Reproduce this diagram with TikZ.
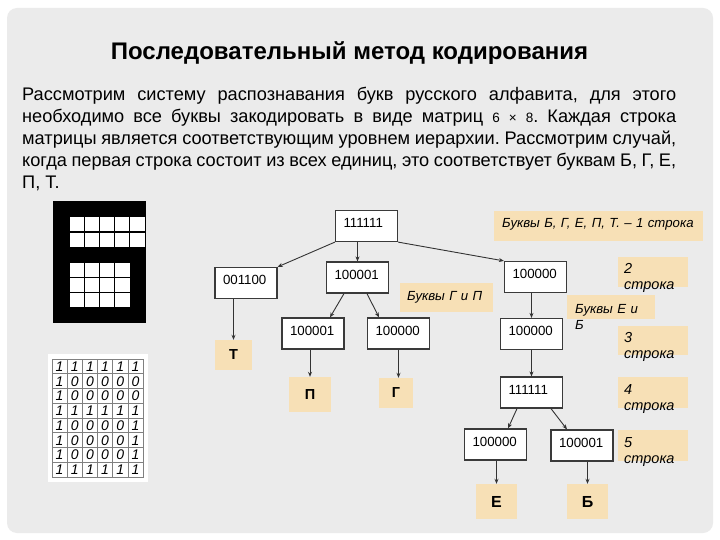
\documentclass[tikz,border=0pt]{standalone}
\usepackage{fontspec}
\setmainfont{Liberation Sans}
\usetikzlibrary{arrows.meta,calc}
\definecolor{bggray}{HTML}{EBEBEB}
\definecolor{tanfill}{HTML}{F7E0B6}
\definecolor{boxline}{HTML}{3A3A3A}
\definecolor{arrcol}{HTML}{333333}
\definecolor{gridgray}{HTML}{808080}
\begin{document}
\begin{tikzpicture}[x=1pt,y=-1pt,
  codebox/.style={draw=boxline, line width=1.2pt, fill=white, inner xsep=8pt, inner ysep=0pt,
    text width=46pt, align=left, text height=17pt, text depth=14pt,
    font=\fontsize{13.3}{14}\selectfont},
  letterbox/.style={fill=tanfill, inner sep=0pt, font=\bfseries\fontsize{14.5}{16}\selectfont},
  tanbox/.style={fill=tanfill, inner sep=0pt},
  labtext/.style={inner sep=0pt, anchor=base west, text width=90pt, align=left,
    font=\itshape\fontsize{13.2}{16}\selectfont},
  link/.style={draw=arrcol, line width=0.9pt, -{Stealth[length=5pt,width=4pt]}}
]
\useasboundingbox (0,0) rectangle (720,540);
\fill[white] (0,0) rectangle (720,540);
\fill[bggray, rounded corners=10pt] (7,8) rectangle (713,533);

% title
\node[font=\bfseries\fontsize{24}{27}\selectfont, anchor=base, inner sep=0pt] (title) at (349.5,59.5)
  {Последовательный метод кодирования};

% body
\node[anchor=base west, inner sep=0pt, text width=654pt, align=justify,
  font=\fontsize{18.2}{22}\selectfont] (body) at (22,100.5)
  {\frenchspacing\hyphenpenalty=10000\spaceskip=0.278em plus 0.6em minus 0.1em
   Рассмотрим систему распознавания букв русского алфавита, для этого\linebreak
   необходимо все буквы закодировать в виде матриц {\fontsize{13.5}{15}\selectfont 6 × 8}. Каждая строка\linebreak
   матрицы является соответствующим уровнем иерархии. Рассмотрим случай,\linebreak
   когда первая строка состоит из всех единиц, это соответствует буквам Б, Г, Е,\linebreak
   П, Т.};

% black letter picture
\fill[black] (53,201) rectangle (146,323);
\foreach \i in {0,...,4}
  \foreach \j in {0,1}
    \draw[fill=white, line width=1pt] (69+\i*15.2,217+\j*15) rectangle ++(15.2,15);
\foreach \i in {0,...,3}
  \foreach \j in {0,1,2}
    \draw[fill=white, line width=1pt] (69+\i*15.25,262+\j*15.33) rectangle ++(15.25,15.33);

% matrix
\fill[white] (48,354) rectangle (148,482);
\foreach \row [count=\i from 0] in {{1,1,1,1,1,1},{1,0,0,0,0,0},{1,0,0,0,0,0},{1,1,1,1,1,1},{1,0,0,0,0,1},{1,0,0,0,0,1},{1,0,0,0,0,1},{1,1,1,1,1,1}}
  \foreach \d [count=\j from 0] in \row {
    \draw[gridgray, line width=0.7pt] (52+\j*15.17,359+\i*14.75) rectangle ++(15.17,14.75);
    \node[font=\itshape\fontsize{14}{15}\selectfont, inner sep=0pt] at (52+\j*15.17+7.6,359+\i*14.75+7.6) {\d};
  }

% tree nodes
\node[codebox] (root) at (366.5,226) {111111};
\node[codebox] (a1) at (246,283) {001100};
\node[codebox] (a2) at (357.5,277.5) {100001};
\node[codebox] (b1) at (313,333.5) {100001};
\node[codebox] (b2) at (398.5,333.5) {100000};
\node[codebox] (r2) at (535.5,277) {100000};
\node[codebox] (r3) at (531.5,334) {100000};
\node[codebox] (r4) at (531.5,392.5) {111111};
\node[codebox] (r5l) at (495.5,444.5) {100000};
\node[codebox] (r5r) at (582,445.5) {100001};

% letter boxes
\node[letterbox, minimum width=37pt, minimum height=30pt] (lT) at (233.5,355) {Т};
\node[letterbox, minimum width=42pt, minimum height=35pt] (lP) at (310,394.5) {П};
\node[letterbox, minimum width=34pt, minimum height=30pt] (lG) at (396,393) {Г};
\node[letterbox, minimum width=41pt, minimum height=35pt, font=\bfseries\fontsize{16}{17}\selectfont] (lE) at (496.5,501.5) {Е};
\node[letterbox, minimum width=41pt, minimum height=35pt, font=\bfseries\fontsize{16}{17}\selectfont] (lB) at (587.5,501.5) {Б};

% label boxes
\node[tanbox, minimum width=209pt, minimum height=30pt] (k1) at (598.5,226) {};
\node[labtext, text width=205pt] (k1t) at (502,227) {Буквы Б, Г, Е, П, Т. – 1 строка};
\node[tanbox, minimum width=93pt, minimum height=29pt] (kGP) at (446.5,297.5) {};
\node[labtext] (kGPt) at (407,300) {Буквы Г и П};
\node[tanbox, minimum width=70pt, minimum height=30pt] (k2) at (653,272) {};
\node[labtext, font=\itshape\fontsize{14.5}{16}\selectfont] (k2t) at (624,273) {2\\строка};
\node[tanbox, minimum width=88pt, minimum height=24pt] (kEB) at (611,307) {};
\node[labtext] (kEBt) at (575,313) {Буквы Е и\\Б};
\node[tanbox, minimum width=70pt, minimum height=29pt] (k3) at (653,340.5) {};
\node[labtext, font=\itshape\fontsize{14.5}{16}\selectfont] (k3t) at (624,342) {3\\строка};
\node[tanbox, minimum width=70pt, minimum height=31pt] (k4) at (653,392.5) {};
\node[labtext, font=\itshape\fontsize{14.5}{16}\selectfont] (k4t) at (624,394) {4\\строка};
\node[tanbox, minimum width=70pt, minimum height=31pt] (k5) at (653,445.5) {};
\node[labtext, font=\itshape\fontsize{14.5}{16}\selectfont] (k5t) at (624,447) {5\\строка};

% connectors
\draw[link] (root.south west) -- (a1.north east);
\draw[link] (a2.north |- root.south) -- (a2.north);
\draw[link] (root.south east) -- (r2.north west);
\draw[link] ([xshift=-13.5pt]a2.south) -- ([xshift=17pt]b1.north);
\draw[link] ([xshift=9.5pt]a2.south) -- ([xshift=-19.5pt]b2.north);
\draw[link] (lT.north |- a1.south) -- (lT.north);
\draw[link] (lP.north |- b1.south) -- (lP.north);
\draw[link] (b2.south) -- (b2.south |- lG.north);
\draw[link] (r3.north |- r2.south) -- (r3.north);
\draw[link] (r3.south) -- (r4.north);
\draw[link] ([xshift=-14.5pt]r4.south) -- ([xshift=12.5pt]r5l.north);
\draw[link] ([xshift=19.5pt]r4.south) -- ([xshift=-15pt]r5r.north);
\draw[link] (lE.north |- r5l.south) -- (lE.north);
\draw[link] (lB.north |- r5r.south) -- (lB.north);
\end{tikzpicture}
\end{document}
